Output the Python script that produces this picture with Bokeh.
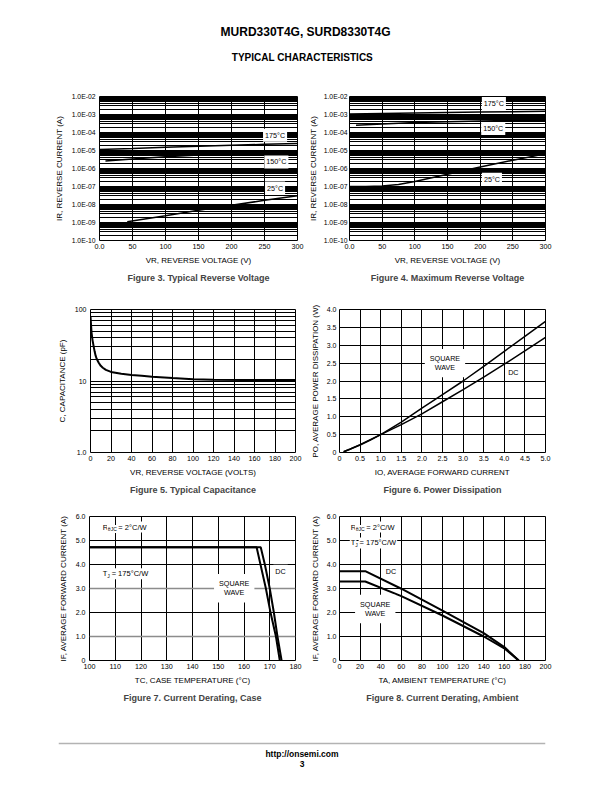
from bokeh.plotting import figure
from bokeh.layouts import column, row
from bokeh.models import FixedTicker, Label, Span, Range1d, Grid
from bokeh.embed import file_html
from bokeh.resources import INLINE
from bokeh.core.properties import value

FONT = "Liberation Sans"

# ---------------- data ----------------
# Figure 3 - typical reverse current
f3_vr_175 = [0, 50, 100, 150, 200, 250, 300]
f3_ir_175 = [1.15e-5, 1.3e-5, 1.5e-5, 1.7e-5, 1.95e-5, 2.2e-5, 2.45e-5]
f3_vr_150 = [9, 50, 100, 150, 200, 250, 300]
f3_ir_150 = [2.6e-6, 3.4e-6, 4.5e-6, 5.6e-6, 6.8e-6, 8.0e-6, 9.2e-6]
f3_vr_25 = [42, 100, 150, 200, 250, 300]
f3_ir_25 = [1.1e-9, 2.4e-9, 4.8e-9, 9.0e-9, 1.7e-8, 3.1e-8]

# Figure 4 - maximum reverse current
f4_vr_175 = [0, 50, 100, 150, 200, 250, 300]
f4_ir_175 = [1.05e-3, 1.15e-3, 1.22e-3, 1.3e-3, 1.37e-3, 1.43e-3, 1.5e-3]
f4_vr_150 = [10, 50, 100, 150, 200, 250, 300]
f4_ir_150 = [2.5e-4, 3.0e-4, 3.6e-4, 4.0e-4, 4.3e-4, 4.6e-4, 4.8e-4]
f4_vr_25 = [0, 25, 50, 75, 100, 150, 200, 250, 300]
f4_ir_25 = [1.0e-7, 1.0e-7, 1.05e-7, 1.3e-7, 1.9e-7, 4.8e-7, 1.2e-6, 2.9e-6, 6.5e-6]

# Figure 5 - capacitance
f5_vr = [0, 0.5, 1, 2, 3, 4, 5, 6, 8, 10, 12, 15, 20, 30, 40, 50, 60, 80, 100, 120, 150, 200]
f5_c = [80, 62, 48, 37, 31, 26, 22.6, 20.5, 18, 16.3, 15.3, 14.3, 13.4, 12.6, 12.1, 11.8,
        11.5, 11.0, 10.6, 10.4, 10.3, 10.3]

# Figure 6 - power dissipation
f6_io = [0.1, 0.25, 0.5, 0.75, 1.0, 1.5, 2.0, 2.5, 3.0, 3.5, 4.0, 4.5, 5.0]
f6_sq = [0.02, 0.09, 0.21, 0.35, 0.5, 0.85, 1.24, 1.62, 2.0, 2.41, 2.83, 3.25, 3.67]
f6_dc = [0.02, 0.09, 0.22, 0.36, 0.5, 0.78, 1.08, 1.42, 1.76, 2.11, 2.47, 2.84, 3.22]

# Figure 7 - current derating, case
f7_tc_dc = [100, 166.5, 168.1, 170.0, 171.6, 173.0, 174.6]
f7_if_dc = [4.72, 4.72, 4.0, 3.0, 2.0, 1.0, 0.0]
f7_tc_sq = [100, 164.9, 166.4, 168.5, 170.3, 172.4, 173.9]
f7_if_sq = [4.72, 4.72, 4.0, 3.0, 2.0, 1.0, 0.0]

# Figure 8 - current derating, ambient
f8_ta = [0, 25, 60, 100, 140, 160, 174]
f8_if_dc = [3.72, 3.72, 2.99, 2.08, 1.14, 0.56, 0.0]
f8_if_sq = [3.29, 3.29, 2.68, 1.875, 1.0, 0.51, 0.0]

# tick values / labels
ir_ticks = [1e-10, 1e-9, 1e-8, 1e-7, 1e-6, 1e-5, 1e-4, 1e-3, 1e-2]
ir_labels = ["1.0E-10", "1.0E-09", "1.0E-08", "1.0E-07", "1.0E-06", "1.0E-05",
             "1.0E-04", "1.0E-03", "1.0E-02"]
vr_ticks = [0, 50, 100, 150, 200, 250, 300]
vr_labels = ["0.0", "50", "100", "150", "200", "250", "300"]
c_ticks = [1, 10, 100]
c_labels = ["1.0", "10", "100"]
f5_xticks = [0, 20, 40, 60, 80, 100, 120, 140, 160, 180, 200]
f6_ticks = [0, 0.5, 1.0, 1.5, 2.0, 2.5, 3.0, 3.5, 4.0, 4.5, 5.0]
f6_xlabels = ["0", "0.5", "1.0", "1.5", "2.0", "2.5", "3.0", "3.5", "4.0", "4.5", "5.0"]
f6_yticks = [0, 0.5, 1.0, 1.5, 2.0, 2.5, 3.0, 3.5, 4.0]
f6_ylabels = ["0", "0.5", "1.0", "1.5", "2.0", "2.5", "3.0", "3.5", "4.0"]
if_ticks = [0, 1, 2, 3, 4, 5, 6]
if_labels = ["0", "1.0", "2.0", "3.0", "4.0", "5.0", "6.0"]
tc_ticks = [100, 110, 120, 130, 140, 150, 160, 170, 180]
ta_ticks = [0, 20, 40, 60, 80, 100, 120, 140, 160, 180, 200]


def log_minors(ticks):
    out = []
    for d in ticks[:-1]:
        out += [m * d for m in range(2, 10)]
    return out


def chart(width, height, bl, br, bt, bb, xr, yr, ylog, xticks, yticks, xlabels, ylabels,
          xlabel, ylabel, caption, yminor=None, ylab_size="7px"):
    p = figure(width=width, height=height, x_range=Range1d(*xr), y_range=Range1d(*yr),
               y_axis_type="log" if ylog else "linear",
               output_backend="svg", toolbar_location=None,
               min_border_left=bl, min_border_right=br, min_border_top=bt, min_border_bottom=bb,
               title=caption, title_location="below")
    p.outline_line_color = "black"
    p.outline_line_width = 1
    p.title.text_font = FONT
    p.title.text_font_size = "9px"
    p.title.text_font_style = "bold"
    p.title.align = "center"
    p.title.standoff = 7
    p.xaxis.ticker = FixedTicker(ticks=xticks)
    p.yaxis.ticker = FixedTicker(ticks=yticks, minor_ticks=yminor or [])
    p.xaxis.major_label_overrides = {t: l for t, l in zip(xticks, xlabels)}
    p.yaxis.major_label_overrides = {t: l for t, l in zip(yticks, ylabels)}
    for ax in (p.xaxis, p.yaxis):
        ax.axis_line_color = None
        ax.major_tick_out = 0
        ax.major_tick_in = 0
        ax.minor_tick_out = 0
        ax.minor_tick_in = 0
        ax.major_label_text_font = FONT
        ax.major_label_text_color = "black"
        ax.axis_label_text_font = FONT
        ax.axis_label_text_font_size = "8px"
        ax.axis_label_text_font_style = "normal"
        ax.axis_label_text_color = "black"
    p.xaxis.major_label_text_font_size = "7.2px"
    p.yaxis.major_label_text_font_size = ylab_size
    p.xaxis.major_label_standoff = 3
    p.xaxis.axis_label_standoff = 4
    p.yaxis.major_label_standoff = 4
    p.yaxis.axis_label_standoff = 5
    p.xaxis.axis_label = xlabel
    p.yaxis.axis_label = ylabel
    p.xgrid.grid_line_color = "black"
    p.ygrid.grid_line_color = "black"
    p.xgrid.grid_line_width = 1
    p.ygrid.grid_line_width = 1
    if yminor:
        p.ygrid.minor_grid_line_color = "black"
        p.ygrid.minor_grid_line_width = 1.2
    return p


def tag(p, x, y, text, size="7.2px", pad=2, align="center"):
    p.add_layout(Label(x=x, y=y, text=text, text_align=align, text_baseline="middle",
                       text_font=FONT, text_font_size=size, text_color="black",
                       text_line_height=1.05,
                       background_fill_color="white", padding=pad))


def sub_tag(p, x, y, main, sub, rest, main_w, sub_w):
    common = dict(text_baseline="middle", text_align="left", text_font=FONT,
                  text_color="black", background_fill_color="white", padding=1)
    p.add_layout(Label(x=x, y=y, text=main, text_font_size="7.5px", **common))
    p.add_layout(Label(x=x, y=y, text=rest, x_offset=main_w + sub_w + 2, text_font_size="7.5px", **common))
    p.add_layout(Label(x=x, y=y, text=sub, x_offset=main_w, y_offset=-2, text_font_size="5px", **common))


def text_fig(w, h, bl=0, br=0):
    p = figure(width=w, height=h, x_range=Range1d(0, w - bl - br), y_range=Range1d(h, 0),
               output_backend="svg", toolbar_location=None, min_border=0,
               min_border_left=bl, min_border_right=br,
               x_axis_location=None, y_axis_location=None)
    p.outline_line_color = None
    p.xgrid.visible = False
    p.ygrid.visible = False
    return p


LW, RW = 305, 306   # widths of left / right column figures

# ---------------- header ----------------
hdr = text_fig(LW + RW, 80)
hdr.text(x=[310], y=[31], text=["MURD330T4G, SURD8330T4G"], text_align="center",
         text_baseline="middle", text_font=value(FONT), text_font_style="bold",
         text_font_size="12px", text_color="black")
hdr.text(x=[306], y=[57], text=["TYPICAL CHARACTERISTICS"], text_align="center",
         text_baseline="middle", text_font=value(FONT), text_font_style="bold",
         text_font_size="10px", text_color="black")

# ---------------- figure 3 ----------------
p3 = chart(LW, 210, 99, LW - 99 - 198, 16, 50, (0, 300), (1e-10, 1e-2), True, vr_ticks, ir_ticks,
           vr_labels, ir_labels, "VR, REVERSE VOLTAGE (V)", "IR, REVERSE CURRENT (A)",
           "Figure 3. Typical Reverse Voltage", yminor=log_minors(ir_ticks), ylab_size="6.8px")
p3.line(f3_vr_175, f3_ir_175, line_color="black", line_width=1.5)
p3.line(f3_vr_150, f3_ir_150, line_color="black", line_width=1.5)
p3.line(f3_vr_25, f3_ir_25, line_color="black", line_width=1.5)
tag(p3, 266, 7.0e-5, "175°C")
tag(p3, 268, 2.3e-6, "150°C")
tag(p3, 266, 8.2e-8, "25°C")

# ---------------- figure 4 ----------------
p4 = chart(RW, 210, 40, RW - 40 - 200, 16, 50, (0, 300), (1e-10, 1e-2), True, vr_ticks, ir_ticks,
           vr_labels, ir_labels, "VR, REVERSE VOLTAGE (V)", "IR, REVERSE CURRENT (A)",
           "Figure 4. Maximum Reverse Voltage", yminor=log_minors(ir_ticks), ylab_size="6.8px")
p4.yaxis.major_label_standoff = 2
p4.yaxis.axis_label_standoff = 3
p4.line(f4_vr_175, f4_ir_175, line_color="black", line_width=1.5)
p4.line(f4_vr_150, f4_ir_150, line_color="black", line_width=1.5)
p4.line(f4_vr_25, f4_ir_25, line_color="black", line_width=1.5)
tag(p4, 221, 4.1e-3, "175°C")
tag(p4, 220, 1.66e-4, "150°C")
tag(p4, 218, 2.55e-7, "25°C")

# ---------------- figure 5 ----------------
p5 = chart(LW, 210, 90, LW - 90 - 205, 19, 47, (0, 200), (1, 100), True, f5_xticks, c_ticks,
           [str(t) for t in f5_xticks], c_labels, "VR, REVERSE VOLTAGE (VOLTS)",
           "C, CAPACITANCE (pF)", "Figure 5. Typical Capacitance", yminor=log_minors(c_ticks))
p5.line(f5_vr, f5_c, line_color="black", line_width=2)

# ---------------- figure 6 ----------------
p6 = chart(RW, 210, 34, RW - 34 - 206, 18, 48, (0, 5), (0, 4), False, f6_ticks, f6_yticks,
           f6_xlabels, f6_ylabels, "IO, AVERAGE FORWARD CURRENT",
           "PO, AVERAGE POWER DISSIPATION (W)", "Figure 6. Power Dissipation")
p6.yaxis.major_label_standoff = 3
p6.yaxis.axis_label_standoff = 4
p6.line(f6_io, f6_sq, line_color="black", line_width=1.5)
p6.line(f6_io, f6_dc, line_color="black", line_width=1.5)
tag(p6, 2.56, 2.5, "SQUARE\nWAVE", pad=5)
tag(p6, 4.22, 2.23, "DC", pad=3)

# ---------------- figure 7 ----------------
p7 = chart(LW, 220, 89, LW - 89 - 206, 16, 60, (100, 180), (0, 6), False, tc_ticks, if_ticks,
           [str(t) for t in tc_ticks], if_labels, "TC, CASE TEMPERATURE (°C)",
           "IF, AVERAGE FORWARD CURRENT (A)", "Figure 7. Current Derating, Case")
p7.ygrid.ticker = FixedTicker(ticks=[2, 4, 5])
p7.add_layout(Grid(dimension=1, ticker=FixedTicker(ticks=[1, 3]), grid_line_color="#8c8c8c",
                   grid_line_width=1.5))
p7.line(f7_tc_sq, f7_if_sq, line_color="black", line_width=2)
p7.line(f7_tc_dc, f7_if_dc, line_color="black", line_width=2)
sub_tag(p7, 104.8, 5.56, "R", "θJC", "= 2°C/W", 5.0, 8.5)
sub_tag(p7, 104.8, 3.61, "T", "J", "= 175°C/W", 4.4, 2.4)
tag(p7, 156.2, 3.01, "SQUARE\nWAVE", pad=5)
tag(p7, 174.2, 3.72, "DC", pad=2)

# ---------------- figure 8 ----------------
p8 = chart(RW, 220, 34, RW - 34 - 206, 16, 60, (0, 200), (0, 6), False, ta_ticks, if_ticks,
           [str(t) for t in ta_ticks], if_labels, "TA, AMBIENT TEMPERATURE (°C)",
           "IF, AVERAGE FORWARD CURRENT (A)", "Figure 8. Current Derating, Ambient")
p8.yaxis.major_label_standoff = 3
p8.yaxis.axis_label_standoff = 4
p8.line(f8_ta, f8_if_dc, line_color="black", line_width=2)
p8.line(f8_ta, f8_if_sq, line_color="black", line_width=2)
sub_tag(p8, 10, 5.56, "R", "θJC", "= 2°C/W", 5.0, 8.5)
sub_tag(p8, 10, 4.9, "T", "J", "= 175°C/W", 4.4, 2.4)
tag(p8, 50, 3.71, "DC", pad=2)
tag(p8, 34.7, 2.15, "SQUARE\nWAVE", pad=5)

# ---------------- footer ----------------
ftr = text_fig(LW + RW, 70, bl=58, br=LW + RW - 545)
ftr.add_layout(Span(location=23, dimension="width", line_color="#b3b3b3", line_width=1.5))
ftr.text(x=[243.5], y=[33.5], text=["http://onsemi.com"], text_align="center",
         text_baseline="middle", text_font=value(FONT), text_font_style="bold",
         text_font_size="8.5px", text_color="black")
ftr.text(x=[243.5], y=[43], text=["3"], text_align="center",
         text_baseline="middle", text_font=value(FONT), text_font_style="bold",
         text_font_size="8.5px", text_color="black")

layout = column(hdr, row(p3, p4), row(p5, p6), row(p7, p8), ftr)
open("out.html", "w").write(file_html(layout, INLINE))
